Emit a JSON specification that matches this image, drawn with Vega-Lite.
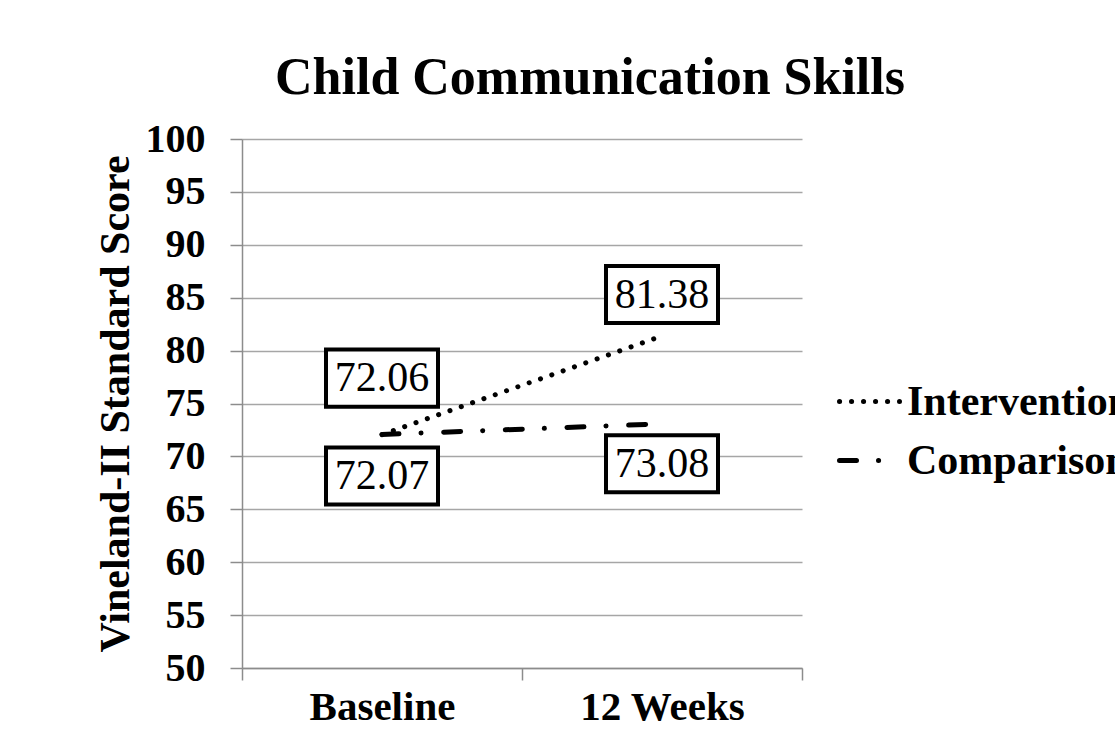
{
  "$schema": "https://vega.github.io/schema/vega-lite/v6.json",
  "width": 560,
  "height": 529,
  "autosize": "none",
  "padding": {"left": 242, "top": 139, "right": 313, "bottom": 75},
  "background": "white",
  "title": {
    "text": "Child Communication Skills",
    "font": "Liberation Serif",
    "fontSize": 52,
    "fontWeight": "bold",
    "color": "black",
    "anchor": "middle",
    "dx": 68,
    "offset": 14
  },
  "data": {
    "values": [
      {"time": "Baseline", "group": "Intervention", "score": 72.06, "label_y": 77.4},
      {"time": "12 Weeks", "group": "Intervention", "score": 81.38, "label_y": 85.3},
      {"time": "Baseline", "group": "Comparison", "score": 72.07, "label_y": 68.15},
      {"time": "12 Weeks", "group": "Comparison", "score": 73.08, "label_y": 69.3}
    ]
  },
  "encoding": {
    "x": {
      "field": "time",
      "type": "nominal",
      "sort": ["Baseline", "12 Weeks"],
      "scale": {"paddingInner": 0, "paddingOuter": 0},
      "axis": {
        "title": null,
        "labelAngle": 0,
        "tickBand": "extent",
        "grid": false,
        "domainColor": "#8c8c8c",
        "domainWidth": 1.5,
        "tickColor": "#8c8c8c",
        "tickWidth": 1.5,
        "tickSize": 12,
        "labelFont": "Liberation Serif",
        "labelFontSize": 41,
        "labelFontWeight": "bold",
        "labelColor": "black",
        "labelPadding": 7
      }
    }
  },
  "layer": [
    {
      "mark": {"type": "line", "strokeWidth": 5, "strokeCap": "round", "color": "black"},
      "encoding": {
        "y": {
          "field": "score",
          "type": "quantitative",
          "title": "Vineland-II Standard Score",
          "scale": {"domain": [50, 100], "nice": false, "zero": false},
          "axis": {
            "values": [50, 55, 60, 65, 70, 75, 80, 85, 90, 95, 100],
            "grid": true,
            "gridColor": "#a6a6a6",
            "gridWidth": 1.5,
            "domainColor": "#8c8c8c",
            "domainWidth": 1.5,
            "tickColor": "#8c8c8c",
            "tickWidth": 1.5,
            "tickSize": 12,
            "labelFont": "Liberation Serif",
            "labelFontSize": 40,
            "labelFontWeight": "bold",
            "labelColor": "black",
            "labelPadding": 25,
            "titleFont": "Liberation Serif",
            "titleFontSize": 42,
            "titleFontWeight": "bold",
            "titleColor": "black",
            "titlePadding": 8
          }
        },
        "strokeDash": {
          "field": "group",
          "type": "nominal",
          "scale": {
            "domain": ["Intervention", "Comparison"],
            "range": [[0.1, 11.9], [17, 22, 0.1, 22.6]]
          },
          "legend": {
            "title": null,
            "orient": "none",
            "legendX": 595,
            "legendY": 230,
            "symbolType": "stroke",
            "symbolSize": 3600,
            "symbolStrokeWidth": 5,
            "symbolStrokeColor": "black",
            "labelFont": "Liberation Serif",
            "labelFontSize": 42,
            "labelFontWeight": "bold",
            "labelColor": "black",
            "labelOffset": 5,
            "labelLimit": 0,
            "rowPadding": 5,
            "encode": {"symbols": {"update": {"strokeCap": {"value": "round"}}}}
          }
        }
      }
    },
    {
      "mark": {
        "type": "point",
        "shape": "M-1,-0.51H1V0.51H-1Z",
        "size": 12544,
        "filled": true,
        "fill": "white",
        "stroke": "black",
        "strokeWidth": 4,
        "opacity": 1
      },
      "encoding": {
        "y": {"field": "label_y", "type": "quantitative", "title": "Vineland-II Standard Score"}
      }
    },
    {
      "mark": {
        "type": "text",
        "font": "Liberation Serif",
        "fontSize": 42,
        "color": "black",
        "align": "center",
        "baseline": "middle"
      },
      "encoding": {
        "y": {"field": "label_y", "type": "quantitative", "title": "Vineland-II Standard Score"},
        "text": {"field": "score", "type": "quantitative", "format": ".2f"}
      }
    }
  ],
  "config": {"view": {"stroke": null}}
}
